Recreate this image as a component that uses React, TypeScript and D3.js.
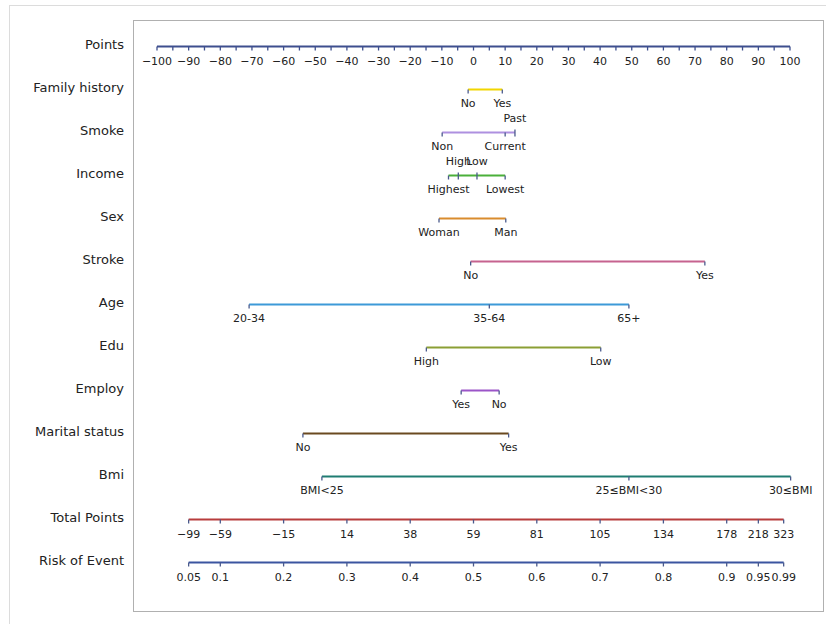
import React from "react";
import * as d3 from "d3";

const familyLabels = ["No", "Yes"];
const familyPoints = [-1.7, 9.1];
const smokeLabels = ["Non", "Current", "Past"];
const smokePoints = [-9.9, 10.0, 13.1];
const incomeLabels = ["Highest", "High", "Low", "Lowest"];
const incomePoints = [-7.9, -4.8, 1.1, 10.0];
const sexLabels = ["Woman", "Man"];
const sexPoints = [-10.9, 10.2];
const strokeLabels = ["No", "Yes"];
const strokePoints = [-0.9, 73.1];
const ageLabels = ["20-34", "35-64", "65+"];
const agePoints = [-70.9, 5.0, 49.1];
const eduLabels = ["High", "Low"];
const eduPoints = [-14.9, 40.2];
const employLabels = ["Yes", "No"];
const employPoints = [-3.9, 8.1];
const maritalLabels = ["No", "Yes"];
const maritalPoints = [-53.9, 11.1];
const bmiLabels = ["BMI<25", "25≤BMI<30", "30≤BMI"];
const bmiPoints = [-47.9, 49.1, 100.2];

const totalPointLabels = ["-99", "-59", "-15", "14", "38", "59", "81", "105", "134", "178", "218", "323"];
const riskTicks = [0.05, 0.1, 0.2, 0.3, 0.4, 0.5, 0.6, 0.7, 0.8, 0.9, 0.95, 0.99];

const rows = [
  { name: "Family history", labels: familyLabels, points: familyPoints, color: "#f2d600" },
  { name: "Smoke", labels: smokeLabels, points: smokePoints, color: "#ae90e0" },
  { name: "Income", labels: incomeLabels, points: incomePoints, color: "#4bb03a" },
  { name: "Sex", labels: sexLabels, points: sexPoints, color: "#d98c2e" },
  { name: "Stroke", labels: strokeLabels, points: strokePoints, color: "#c6638f" },
  { name: "Age", labels: ageLabels, points: agePoints, color: "#3d9ad8" },
  { name: "Edu", labels: eduLabels, points: eduPoints, color: "#8b9f35" },
  { name: "Employ", labels: employLabels, points: employPoints, color: "#9b55c8" },
  { name: "Marital status", labels: maritalLabels, points: maritalPoints, color: "#6a4a20" },
  { name: "Bmi", labels: bmiLabels, points: bmiPoints, color: "#1f7d72" },
];

const W = 826;
const H = 624;
const tickColor = "#4a5a8c";
const fontTick = "'DejaVu Sans', sans-serif";

const x = d3.scaleLinear().domain([-100, 100]).range([157, 790]);
const xRisk = d3.scaleLinear().domain([0, 1]).range([157, 790]);
const allNames = ["Points", ...rows.map((r) => r.name), "Total Points", "Risk of Event"];
const y = d3.scalePoint<string>().domain(allNames).range([46.5, 562.5]);

const minus = (s: string) => s.replace("-", "\u2212");

// place a label under the line unless it would run into the previous one
function placeLabels(labels: string[], xs: number[]) {
  let lastRight = -Infinity;
  return labels.map((lab, i) => {
    const w = lab.length * 6.8;
    const left = xs[i] - w / 2;
    if (left < lastRight + 1) return "above";
    lastRight = xs[i] + w / 2;
    return "below";
  });
}

export default function App() {
  const pointTicks = d3.range(-100, 101, 5);
  const yP = y("Points")!;
  const yT = y("Total Points")!;
  const yR = y("Risk of Event")!;
  const riskX = riskTicks.map((r) => xRisk(r));

  return (
    <svg width={W} height={H} style={{ position: "absolute", left: 0, top: 0 }} fontFamily={fontTick}>
      <rect x={9.5} y={5.5} width={W + 10} height={H + 10} fill="none" stroke="#dcdcdc" />
      <rect x={133.5} y={20.5} width={690} height={591} fill="#fff" stroke="#b0b0b0" />

      {allNames.map((n) => (
        <text key={n} x={124} y={y(n)! - 1} textAnchor="end" dominantBaseline="middle" fontSize={13} fill="#222">
          {n}
        </text>
      ))}

      {/* Points axis */}
      <line x1={x(-100)} x2={x(100)} y1={yP} y2={yP} stroke="#3e4f8e" strokeWidth={2} />
      {pointTicks.map((t) => (
        <line key={t} x1={x(t)} x2={x(t)} y1={yP} y2={yP + 4} stroke="#3e4f8e" strokeWidth={1.3} />
      ))}
      {pointTicks
        .filter((t) => t % 10 === 0)
        .map((t) => (
          <text key={t} x={x(t)} y={yP + 15} textAnchor="middle" dominantBaseline="middle" fontSize={11} fill="#222">
            {d3.format("d")(t)}
          </text>
        ))}

      {rows.map((r) => {
        const yy = y(r.name)!;
        const xs = r.points.map((p) => x(p));
        const sides = placeLabels(r.labels, xs);
        return (
          <g key={r.name}>
            <line x1={d3.min(xs)} x2={d3.max(xs)} y1={yy} y2={yy} stroke={r.color} strokeWidth={2} />
            {xs.map((px, i) => (
              <line key={i} x1={px} x2={px} y1={yy - (sides[i] === "above" ? 3 : 0)} y2={yy + 4} stroke={tickColor} strokeWidth={1.3} />
            ))}
            {r.labels.map((lab, i) => (
              <text
                key={lab}
                x={xs[i]}
                y={sides[i] === "above" ? yy - 14 : yy + 14}
                textAnchor="middle"
                dominantBaseline="middle"
                fontSize={11}
                fill="#222"
              >
                {lab}
              </text>
            ))}
          </g>
        );
      })}

      {/* Total points */}
      <line x1={riskX[0]} x2={riskX[riskX.length - 1]} y1={yT} y2={yT} stroke="#b83c3c" strokeWidth={2} />
      {riskX.map((px, i) => (
        <g key={i}>
          <line x1={px} x2={px} y1={yT} y2={yT + 4} stroke={tickColor} strokeWidth={1.3} />
          <text x={px} y={yT + 15} textAnchor="middle" dominantBaseline="middle" fontSize={11} fill="#222">
            {minus(totalPointLabels[i])}
          </text>
        </g>
      ))}

      {/* Risk of event */}
      <line x1={riskX[0]} x2={riskX[riskX.length - 1]} y1={yR} y2={yR} stroke="#3b55a0" strokeWidth={2} />
      {riskTicks.map((r, i) => (
        <g key={r}>
          <line x1={riskX[i]} x2={riskX[i]} y1={yR} y2={yR + 4} stroke={tickColor} strokeWidth={1.3} />
          <text x={riskX[i]} y={yR + 15} textAnchor="middle" dominantBaseline="middle" fontSize={11} fill="#222">
            {String(r)}
          </text>
        </g>
      ))}
    </svg>
  );
}
